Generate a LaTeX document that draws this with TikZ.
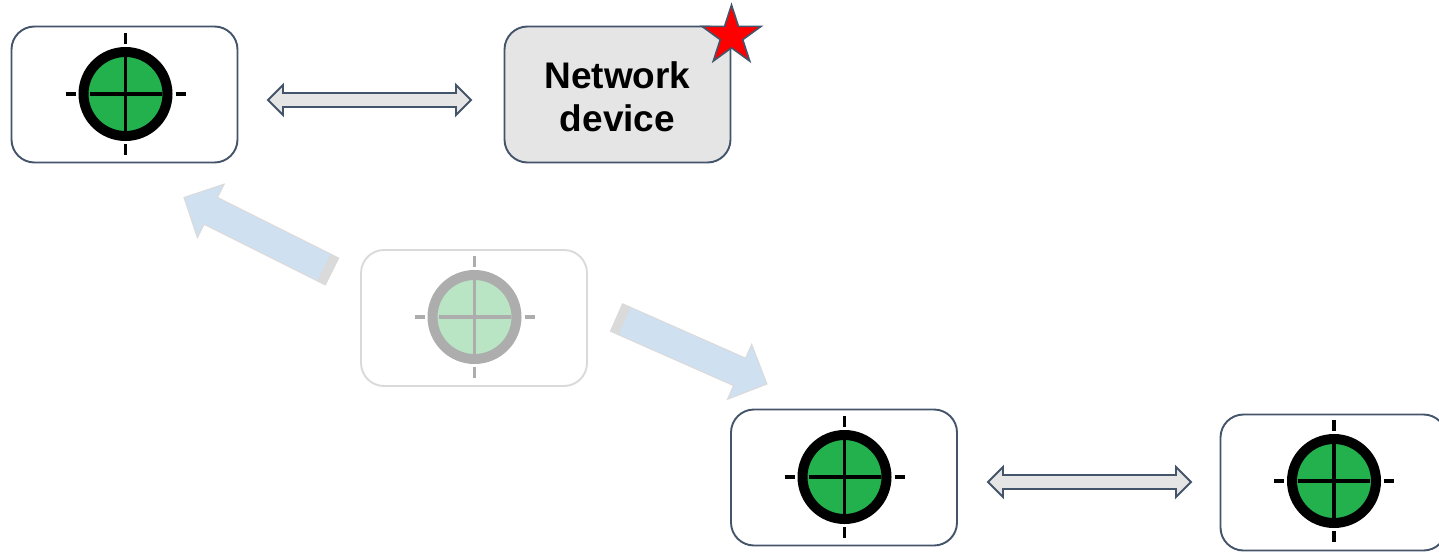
\documentclass[tikz,border=0pt]{standalone}
\usepackage{fontspec}
\setmainfont{Liberation Sans}
\usetikzlibrary{calc,shapes.geometric}
\definecolor{edgeblue}{HTML}{44546A}
\definecolor{paleblue}{HTML}{CFE0F1}
\definecolor{fadegray}{HTML}{DADADA}
\definecolor{boxgray}{HTML}{E5E5E5}
\definecolor{targetgreen}{HTML}{22B14C}
\definecolor{fadegreen}{HTML}{BAE5C5}
\definecolor{ringgray}{HTML}{ADADAD}
\tikzset{basic/.style={draw=edgeblue,line width=1.9pt,rectangle,rounded corners=23pt,
                       minimum width=226pt,minimum height=136pt,inner sep=0pt}}
\tikzset{device/.style={basic,fill=white}}
\tikzset{fadedbox/.style={basic,draw=fadegray,fill=white}}
\tikzset{netbox/.style={basic,fill=boxgray,align=center,
                        font=\bfseries\fontsize{37}{43.5}\selectfont}}
\tikzset{marker/.style={star,star points=5,star point ratio=2.618,minimum size=62pt,
                        inner sep=0pt,draw=edgeblue,fill=red,line width=1.6pt}}
\tikzset{linkarrow/.style={draw=edgeblue,fill=boxgray,line width=1.9pt,line join=miter,
  to path={-- ($(\tikztostart)!15pt!(\tikztotarget)!15pt!90:(\tikztotarget)$)
           -- ($(\tikztostart)!15pt!(\tikztotarget)!7pt!90:(\tikztotarget)$)
           -- ($(\tikztotarget)!15pt!(\tikztostart)!7pt!-90:(\tikztostart)$)
           -- ($(\tikztotarget)!15pt!(\tikztostart)!15pt!-90:(\tikztostart)$)
           -- (\tikztotarget)
           -- ($(\tikztotarget)!15pt!(\tikztostart)!15pt!90:(\tikztostart)$)
           -- ($(\tikztotarget)!15pt!(\tikztostart)!7pt!90:(\tikztostart)$)
           -- ($(\tikztostart)!15pt!(\tikztotarget)!7pt!-90:(\tikztotarget)$)
           -- ($(\tikztostart)!15pt!(\tikztotarget)!15pt!-90:(\tikztotarget)$)
           -- cycle}}}
\tikzset{movearrow/.style={draw=fadegray,fill=paleblue,line width=1pt,line join=miter,
  to path={($(\tikztostart)!15pt!90:(\tikztotarget)$)
           -- ($(\tikztotarget)!30pt!(\tikztostart)!15pt!-90:(\tikztostart)$)
           -- ($(\tikztotarget)!30pt!(\tikztostart)!30pt!-90:(\tikztostart)$)
           -- (\tikztotarget)
           -- ($(\tikztotarget)!30pt!(\tikztostart)!30pt!90:(\tikztostart)$)
           -- ($(\tikztotarget)!30pt!(\tikztostart)!15pt!90:(\tikztostart)$)
           -- ($(\tikztostart)!15pt!-90:(\tikztotarget)$)
           -- cycle}}}
\tikzset{tailband/.style={draw=none,fill=fadegray,
  to path={($(\tikztostart)!15pt!90:(\tikztotarget)$)
           -- ($(\tikztostart)!9pt!(\tikztotarget)!15pt!90:(\tikztotarget)$)
           -- ($(\tikztostart)!9pt!(\tikztotarget)!15pt!-90:(\tikztotarget)$)
           -- ($(\tikztostart)!15pt!-90:(\tikztotarget)$)
           -- cycle}}}
\newcommand{\addtarget}[2]{\draw[line width=10pt,draw=#1,fill=#2] (0,0) circle (42pt);
    \draw[line width=3.2pt,draw=#1] (0,-37) -- (0,37) (-36,0) -- (36,0)
         (0,-61) -- (0,-50) (0,50) -- (0,61) (-60,0) -- (-50,0) (50,0) -- (60,0);}
\begin{document}
\begin{tikzpicture}[x=1pt,y=-1pt]
    \useasboundingbox (0,0) rectangle (1439,551);
    % Draw the three full device boxes
    \foreach \xc/\yc/\xt/\yt [count=\hi] in {124.5/94.5/125.5/94,844/477.5/844.5/477,1333.5/482.5/1334/481}{%
          \node[device] (dev\hi) at (\xc,\yc) {};
          \begin{scope}[shift={(\xt,\yt)}]
              \addtarget{black}{targetgreen}
          \end{scope}
        }
    % Faded box in the middle
    \node[fadedbox] (old) at (474,318) {};
    \begin{scope}[shift={(474.5,317)}]
        \addtarget{ringgray}{fadegreen}
    \end{scope}
    % Network box and its star
    \node[netbox] (net) at (617.5,94.5) {\rule{0pt}{31pt}Network\\device};
    \node[marker] (mark) at (731.5,36) {};
    % Free ends of the arrows
    \coordinate (linkaL) at (268,100);
    \coordinate (linkaR) at (471,100);
    \coordinate (linkbL) at (988,482);
    \coordinate (linkbR) at (1191,482);
    \coordinate (upT) at (332,271.5);
    \coordinate (upH) at (184,197.5);
    \coordinate (downT) at (616.5,317.5);
    \coordinate (downH) at (767,384);
    % Draw the arrows
    \path[linkarrow] (linkaL) to (linkaR);
    \path[linkarrow] (linkbL) to (linkbR);
    \foreach \t/\h in {upT/upH,downT/downH}{%
          \path[movearrow] (\t) to (\h);
          \path[tailband] (\t) to (\h);
        }
\end{tikzpicture}
\end{document}
